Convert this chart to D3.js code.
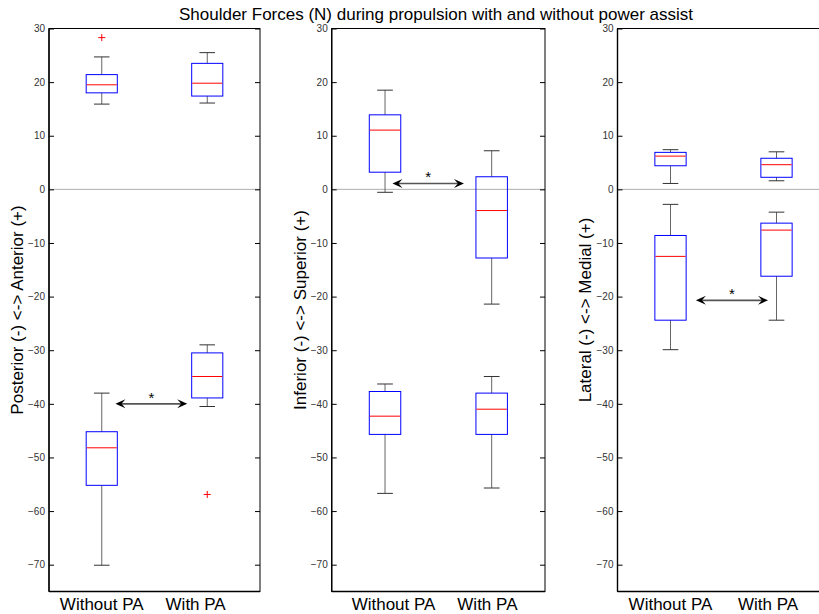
<!DOCTYPE html>
<html>
<head>
<meta charset="utf-8">
<script src="https://cdn.jsdelivr.net/npm/d3@7"></script>
<style>
  html, body { margin: 0; padding: 0; background: #fff; }
  svg { display: block; font-family: "Liberation Sans", Arial, sans-serif; }
</style>
</head>
<body>
<svg id="chart" width="819" height="614"></svg>
<script>
// ---------------- DATA ----------------
const chartTitle = "Shoulder Forces (N) during propulsion with and without power assist";
const categories = ["Without PA", "With PA"];
const yTicks = [-70, -60, -50, -40, -30, -20, -10, 0, 10, 20, 30];
const yLabels = [
  "Posterior (-) <-> Anterior (+)",
  "Inferior (-) <-> Superior (+)",
  "Lateral (-) <-> Medial (+)"
];

// box stats: [lower whisker, Q1, median, Q3, upper whisker] for Without PA, With PA
const antPostPositive = [[15.9, 18.0, 19.5, 21.4, 24.7], [16.1, 17.4, 19.8, 23.5, 25.5]];
const antPostNegative = [[-70.1, -55.2, -48.2, -45.2, -38.0], [-40.5, -38.9, -34.9, -30.5, -29.0]];
const antPostOutliers = [[28.3], [-56.9]];
const antPostSignif = [1.13, 1.81, -40.0];

const infSupPositive = [[-0.55, 3.2, 11.05, 13.9, 18.5], [-21.4, -12.8, -3.95, 2.35, 7.2]];
const infSupNegative = [[-56.7, -45.7, -42.3, -37.7, -36.3], [-55.7, -45.7, -41.0, -38.0, -34.9]];
const infSupOutliers = [[], []];
const infSupSignif = [1.07, 1.74, 1.1];

const latMedPositive = [[1.1, 4.4, 6.2, 6.9, 7.4], [1.6, 2.25, 4.6, 5.8, 7.0]];
const latMedNegative = [[-29.9, -24.4, -12.5, -8.6, -2.8], [-24.4, -16.2, -7.6, -6.3, -4.25]];
const latMedOutliers = [[], []];
const latMedSignif = [1.24, 1.92, -20.7];

// category label positions (in group units) per panel
const labelPos = [[1.0, 1.89], [1.08, 1.96], [1.0, 1.92]];

// ---------------- LAYOUT ----------------
const panels = [
  { left: 49, width: 211, label: yLabels[0], boxes: [antPostPositive, antPostNegative], outliers: antPostOutliers, sig: antPostSignif, lab: labelPos[0] },
  { left: 331.7, width: 213.3, label: yLabels[1], boxes: [infSupPositive, infSupNegative], outliers: infSupOutliers, sig: infSupSignif, lab: labelPos[1] },
  { left: 617.5, width: 212, label: yLabels[2], boxes: [latMedPositive, latMedNegative], outliers: latMedOutliers, sig: latMedSignif, lab: labelPos[2] }
];
const plotTop = 28.5, plotBottom = 591.5;
const BOX_W = 0.295;

const svg = d3.select("#chart");

svg.append("text")
  .attr("x", 436).attr("y", 20)
  .attr("text-anchor", "middle")
  .attr("font-size", 17)
  .attr("fill", "#000")
  .text(chartTitle);

const y = d3.scaleLinear().domain([-75, 30]).range([plotBottom, plotTop]);

panels.forEach((p) => {
  const x = d3.scaleLinear().domain([0.5, 2.5]).range([0, p.width]);
  const g = svg.append("g").attr("transform", `translate(${p.left},0)`);

  // zero line
  g.append("line")
    .attr("x1", 0).attr("x2", p.width)
    .attr("y1", y(0)).attr("y2", y(0))
    .attr("stroke", "#8a8a8a").attr("stroke-width", 0.7);

  // left axis
  const yAxisL = d3.axisLeft(y).tickValues(yTicks).tickSizeInner(-5).tickSizeOuter(0).tickPadding(4);
  const gl = g.append("g").call(yAxisL);
  gl.select(".domain").remove();
  gl.selectAll(".tick line").attr("stroke", "#000");
  gl.selectAll(".tick text")
    .attr("font-size", 10)
    .attr("font-family", "Liberation Sans, Arial, sans-serif")
    .attr("fill", "#333")
    .attr("x", -4);

  // right ticks
  const yAxisR = d3.axisRight(y).tickValues(yTicks).tickSizeInner(-5).tickSizeOuter(0).tickFormat("");
  const gr = g.append("g").attr("transform", `translate(${p.width},0)`).call(yAxisR);
  gr.select(".domain").remove();
  gr.selectAll(".tick line").attr("stroke", "#000");

  // frame
  g.append("rect")
    .attr("x", 0).attr("y", plotTop)
    .attr("width", p.width).attr("height", plotBottom - plotTop)
    .attr("fill", "none").attr("stroke", "#000").attr("stroke-width", 1);
  g.append("line").attr("x1", 0).attr("x2", 0).attr("y1", plotTop).attr("y2", plotBottom)
    .attr("stroke", "#000").attr("stroke-width", 1.4);
  g.append("line").attr("x1", 0).attr("x2", p.width).attr("y1", plotBottom).attr("y2", plotBottom)
    .attr("stroke", "#000").attr("stroke-width", 1.4);

  // boxes
  p.boxes.forEach((set) => {
    set.forEach((s, i) => {
      const cx = x(i + 1);
      const bw = x(1 + BOX_W / 2) - x(1 - BOX_W / 2);
      const cw = bw / 2;
      const [lo, q1, med, q3, hi] = s;
      g.append("line").attr("x1", cx).attr("x2", cx).attr("y1", y(q3)).attr("y2", y(hi))
        .attr("stroke", "#666").attr("stroke-width", 1);
      g.append("line").attr("x1", cx).attr("x2", cx).attr("y1", y(q1)).attr("y2", y(lo))
        .attr("stroke", "#666").attr("stroke-width", 1);
      [lo, hi].forEach(v => {
        g.append("line").attr("x1", cx - cw / 2).attr("x2", cx + cw / 2).attr("y1", y(v)).attr("y2", y(v))
          .attr("stroke", "#333").attr("stroke-width", 1);
      });
      g.append("rect")
        .attr("x", cx - bw / 2).attr("y", y(q3))
        .attr("width", bw).attr("height", y(q1) - y(q3))
        .attr("fill", "none").attr("stroke", "#0000ff").attr("stroke-width", 1);
      g.append("line").attr("x1", cx - bw / 2 + 0.5).attr("x2", cx + bw / 2 - 0.5).attr("y1", y(med)).attr("y2", y(med))
        .attr("stroke", "#ff0000").attr("stroke-width", 1);
    });
  });

  // outliers
  p.outliers.forEach((arr, i) => {
    arr.forEach(v => {
      const cx = x(i + 1), cy = y(v);
      g.append("path")
        .attr("d", `M${cx - 3.5},${cy}H${cx + 3.5}M${cx},${cy - 3.5}V${cy + 3.5}`)
        .attr("stroke", "#ff0000").attr("stroke-width", 1);
    });
  });

  // significance arrow
  const [sx1, sx2, sy] = p.sig;
  const ax1 = x(sx1), ax2 = x(sx2), ay = y(sy);
  const hl = 10, hw = 4.5;
  g.append("line").attr("x1", ax1 + 4).attr("x2", ax2 - 4).attr("y1", ay).attr("y2", ay)
    .attr("stroke", "#555").attr("stroke-width", 1.6);
  g.append("path")
    .attr("d", `M${ax1},${ay}L${ax1 + hl},${ay - hw}L${ax1 + hl * 0.6},${ay}L${ax1 + hl},${ay + hw}Z`)
    .attr("fill", "#000");
  g.append("path")
    .attr("d", `M${ax2},${ay}L${ax2 - hl},${ay - hw}L${ax2 - hl * 0.6},${ay}L${ax2 - hl},${ay + hw}Z`)
    .attr("fill", "#000");
  g.append("text")
    .attr("x", (ax1 + ax2) / 2).attr("y", ay - 1)
    .attr("text-anchor", "middle")
    .attr("font-size", 15)
    .attr("fill", "#000")
    .text("*");

  // category labels
  categories.forEach((c, i) => {
    g.append("text")
      .attr("x", x(p.lab[i])).attr("y", 610)
      .attr("text-anchor", "middle")
      .attr("font-size", 17)
      .attr("fill", "#000")
      .text(c);
  });

  // y label
  g.append("text")
    .attr("transform", `translate(${-32},${(plotTop + plotBottom) / 2}) rotate(-90)`)
    .attr("text-anchor", "middle")
    .attr("dy", "0.35em")
    .attr("font-size", 17)
    .attr("fill", "#000")
    .text(p.label);
});
</script>
</body>
</html>
